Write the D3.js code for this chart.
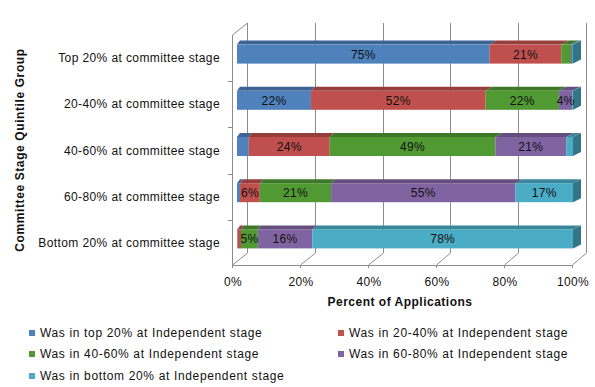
<!DOCTYPE html>
<html>
<head>
<meta charset="utf-8">
<script src="https://cdn.jsdelivr.net/npm/d3@7"></script>
<style>
  body { margin: 0; background: #fff; }
  text { font-family: "Liberation Sans", Arial, sans-serif; fill: #111; }
</style>
</head>
<body>
<div id="chart"></div>
<script>
// categories, top to bottom
var groups = ["Top 20% at committee stage", "20-40% at committee stage", "40-60% at committee stage",
              "60-80% at committee stage", "Bottom 20% at committee stage"];

var seriesNames = ["Was in top 20% at Independent stage", "Was in 20-40% at Independent stage",
                   "Was in 40-60% at Independent stage", "Was in 60-80% at Independent stage",
                   "Was in bottom 20% at Independent stage"];

// percent of applications, one array per series, in group order
var top20    = [75.2, 22.0, 3.5, 0.9, 0.2];
var p20to40  = [21.3, 52.0, 24.1, 5.9, 1.0];
var p40to60  = [2.9, 21.8, 49.3, 21.2, 5.0];
var p60to80  = [0.3, 4.0, 21.1, 54.9, 16.2];
var bottom20 = [0.3, 0.2, 2.0, 17.1, 77.6];

var tickValues = [0, 20, 40, 60, 80, 100];
var colors = ["#4f81bd", "#c0504d", "#519a33", "#8064a2", "#4bacc6"];

var series = [top20, p20to40, p40to60, p60to80, bottom20];
var minLabel = 3.75;

var width = 595, height = 387;

var svg = d3.select("#chart").append("svg")
    .attr("width", width)
    .attr("height", height);

// wall / floor geometry (3d look)
var floorFront = d3.scaleLinear().domain([0, 100]).range([232, 572]);
var floorBack = d3.scaleLinear().domain([0, 100]).range([247, 586]);
var barFront = d3.scaleLinear().domain([0, 100]).range([237, 573]);
var barBack = d3.scaleLinear().domain([0, 100]).range([240, 581]);
var wallTop = 23, wallBottom = 253, floorY = 265;

var y = d3.scaleBand().domain(groups).range([35, 266]);
var barH = 19, barDy = 4;

var grid = svg.append("g")
    .attr("stroke", "#8c8c8c")
    .attr("fill", "none")
    .attr("stroke-width", 1);

// back wall gridlines + floor diagonals
tickValues.forEach(function(t) {
  var xb = Math.round(floorBack(t)) + 0.5;
  var xf = Math.round(floorFront(t)) + 0.5;
  grid.append("line").attr("x1", xb).attr("x2", xb).attr("y1", wallTop).attr("y2", wallBottom);
  grid.append("line").attr("x1", xb).attr("x2", xf).attr("y1", wallBottom).attr("y2", floorY);
  grid.append("line").attr("x1", xf).attr("x2", xf).attr("y1", floorY).attr("y2", floorY + 3);
});

// front floor edge
grid.append("line")
    .attr("x1", floorFront(0) + 0.5).attr("x2", floorFront(100) + 0.5)
    .attr("y1", floorY + 0.5).attr("y2", floorY + 0.5);

// left wall front edge + top diagonal
grid.append("line")
    .attr("x1", floorFront(0) + 0.5).attr("x2", floorFront(0) + 0.5)
    .attr("y1", 35).attr("y2", floorY);
grid.append("line")
    .attr("x1", floorFront(0) + 0.5).attr("x2", floorBack(0) + 0.5)
    .attr("y1", 35).attr("y2", wallTop);

// category ticks on the left wall
y.domain().forEach(function(g, i) {
  var yy = Math.round(y(g)) + 0.5;
  if (i > 0) grid.append("line").attr("x1", 228).attr("x2", 232).attr("y1", yy).attr("y2", yy);
});

// bars
var stacked = groups.map(function(g, gi) {
  var x0 = 0;
  return series.map(function(s, si) {
    var seg = { group: g, si: si, v: s[gi], x0: x0, x1: x0 + s[gi] };
    x0 += s[gi];
    return seg;
  });
});

stacked.forEach(function(row, gi) {
  var yb = y(groups[gi]) + y.bandwidth() / 2 - 4 + barH / 2;
  var yt = yb - barH;
  var g = svg.append("g");

  row.forEach(function(d) {
    if (d.v <= 0) return;
    var c = colors[d.si];
    // top face
    g.append("path")
        .attr("d", "M" + barFront(d.x0) + "," + yt +
                   "L" + barFront(d.x1) + "," + yt +
                   "L" + barBack(d.x1) + "," + (yt - barDy) +
                   "L" + barBack(d.x0) + "," + (yt - barDy) + "Z")
        .attr("fill", d3.color(c).darker(0.7));
    // front face
    g.append("rect")
        .attr("x", barFront(d.x0))
        .attr("y", yt)
        .attr("width", barFront(d.x1) - barFront(d.x0))
        .attr("height", barH)
        .attr("fill", c);
  });

  // right side face
  var last = row[row.length - 1];
  g.append("path")
      .attr("d", "M" + barFront(last.x1) + "," + yt +
                 "L" + barBack(last.x1) + "," + (yt - barDy) +
                 "L" + barBack(last.x1) + "," + (yb - barDy) +
                 "L" + barFront(last.x1) + "," + yb + "Z")
      .attr("fill", d3.color(colors[last.si]).darker(1.1));

  // value labels
  row.forEach(function(d) {
    if (d.v < minLabel) return;
    g.append("text")
        .attr("x", (barFront(d.x0) + barFront(d.x1)) / 2)
        .attr("y", yt + barH / 2 + 4.5)
        .attr("text-anchor", "middle")
        .style("font-size", "12px")
        .style("letter-spacing", "0.3px")
        .text(Math.round(d.v) + "%");
  });
});

// category labels
svg.append("g").selectAll("text")
    .data(groups)
  .enter().append("text")
    .attr("x", 220)
    .attr("y", function(d) { return y(d) + y.bandwidth() / 2 + 4; })
    .attr("text-anchor", "end")
    .style("font-size", "12px")
    .style("letter-spacing", "0.4px")
    .text(function(d) { return d; });

// x tick labels
svg.append("g").selectAll("text")
    .data(tickValues)
  .enter().append("text")
    .attr("x", function(d) { return floorFront(d) + 1; })
    .attr("y", 286)
    .attr("text-anchor", "middle")
    .style("font-size", "12px")
    .style("letter-spacing", "0.3px")
    .text(function(d) { return d + "%"; });

// axis titles
svg.append("text")
    .attr("x", 400)
    .attr("y", 306)
    .attr("text-anchor", "middle")
    .style("font-size", "12px")
    .style("font-weight", "bold")
    .style("letter-spacing", "0.5px")
    .text("Percent of Applications");

svg.append("text")
    .attr("transform", "translate(24,150) rotate(-90)")
    .attr("text-anchor", "middle")
    .style("font-size", "12px")
    .style("font-weight", "bold")
    .style("letter-spacing", "0.6px")
    .text("Committee Stage Quintile Group");

// legend
var legendPos = [[29, 333], [338, 333], [29, 354], [338, 354], [29, 376]];
var legend = svg.append("g").selectAll("g")
    .data(seriesNames)
  .enter().append("g")
    .attr("transform", function(d, i) { return "translate(" + legendPos[i][0] + "," + legendPos[i][1] + ")"; });

legend.append("rect")
    .attr("x", 0).attr("y", -3)
    .attr("width", 6).attr("height", 6)
    .attr("fill", function(d, i) { return colors[i]; });

legend.append("text")
    .attr("x", 11)
    .attr("y", 4)
    .style("font-size", "12px")
    .style("letter-spacing", "0.65px")
    .text(function(d) { return d; });
</script>
</body>
</html>
